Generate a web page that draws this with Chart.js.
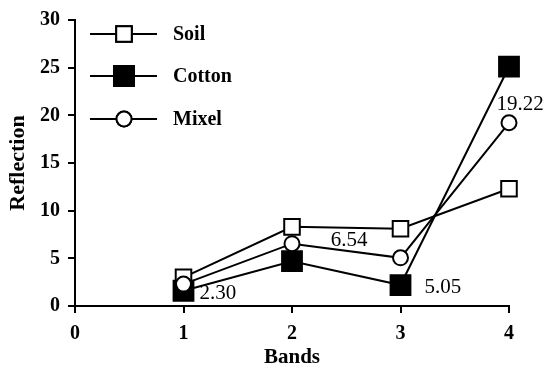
<!DOCTYPE html>
<html>
<head>
<meta charset="utf-8">
<script src="https://cdn.jsdelivr.net/npm/chart.js@4.4.1/dist/chart.umd.min.js"></script>
<style>
  html, body { margin: 0; padding: 0; background: #fff; }
  #wrap { width: 546px; height: 372px; }
</style>
</head>
<body>
<div id="wrap"><canvas id="chart" width="546" height="372"></canvas></div>
<script>
var bands = [1, 2, 3, 4];
var soil = [3.0, 8.3, 8.1, 12.3];
var cotton = [1.6, 4.7, 2.2, 25.1];
var mixel = [2.30, 6.54, 5.05, 19.22];
var mixelLabels = ['2.30', '6.54', '5.05', '19.22'];
var xTicks = [0, 1, 2, 3, 4];
var yTicks = [0, 5, 10, 15, 20, 25, 30];

var serif = "'Liberation Serif', 'Times New Roman', serif";

function toPoints(vals) {
  return bands.map(function (b, i) { return { x: b, y: vals[i] }; });
}

var series = [
  { label: 'Soil', data: soil, style: 'rect', radius: 11, fill: '#fff', order: 3 },
  { label: 'Cotton', data: cotton, style: 'rect', radius: 14, fill: '#000', order: 2 },
  { label: 'Mixel', data: mixel, style: 'circle', radius: 7.5, fill: '#fff', order: 1 }
];

// legend with line through the marker, top left in the plot
var legendPlugin = {
  id: 'lineLegend',
  afterDraw: function (c) {
    var ctx = c.ctx;
    var rows = [34, 76, 119];
    ctx.save();
    ctx.font = 'bold 20px ' + serif;
    ctx.textBaseline = 'middle';
    ctx.textAlign = 'left';
    series.forEach(function (s, i) {
      var y = rows[i];
      ctx.strokeStyle = '#000';
      ctx.lineWidth = 2;
      ctx.beginPath();
      ctx.moveTo(90, y);
      ctx.lineTo(157, y);
      ctx.stroke();
      ctx.fillStyle = s.fill;
      Chart.helpers.drawPoint(ctx, { pointStyle: s.style, radius: s.radius, borderWidth: 2, rotation: 0 }, 124, y);
      ctx.fill();
      ctx.stroke();
      ctx.fillStyle = '#000';
      ctx.fillText(s.label, 173, y + 1);
    });
    ctx.restore();
  }
};

// value labels next to the Mixel points
var valuePlugin = {
  id: 'valueLabels',
  afterDraw: function (c) {
    var ctx = c.ctx;
    var meta = c.getDatasetMeta(2);
    var offs = [[16, 9, 'left'], [57, -3, 'center'], [24, 30, 'left'], [11, -18, 'center']];
    ctx.save();
    ctx.font = '21px ' + serif;
    ctx.fillStyle = '#000';
    ctx.textBaseline = 'middle';
    meta.data.forEach(function (p, i) {
      ctx.textAlign = offs[i][2];
      ctx.fillText(mixelLabels[i], p.x + offs[i][0], p.y + offs[i][1]);
    });
    ctx.restore();
  }
};

new Chart(document.getElementById('chart'), {
  type: 'scatter',
  data: {
    datasets: series.map(function (s) {
      return {
        label: s.label,
        data: toPoints(s.data),
        showLine: true,
        clip: false,
        borderColor: '#000',
        borderWidth: 2,
        pointStyle: s.style,
        pointRadius: s.radius,
        pointHoverRadius: s.radius,
        pointBackgroundColor: s.fill,
        pointBorderColor: '#000',
        pointBorderWidth: 2,
        order: s.order
      };
    })
  },
  options: {
    responsive: false,
    animation: false,
    events: [],
    layout: { padding: { left: 0, right: 37, top: 16, bottom: 0 } },
    plugins: { legend: { display: false }, tooltip: { enabled: false } },
    scales: {
      x: {
        type: 'linear',
        min: 0,
        max: 4,
        afterBuildTicks: function (s) { s.ticks = xTicks.map(function (v) { return { value: v }; }); },
        afterFit: function (s) { s.height = 66; },
        grid: { drawOnChartArea: false, drawTicks: true, tickLength: 7, color: '#000', lineWidth: 2 },
        border: { color: '#000', width: 2 },
        ticks: { color: '#000', padding: 9, maxRotation: 0, font: { family: serif, size: 20, weight: 'bold' } },
        title: { display: true, text: 'Bands', color: '#000', padding: { top: 0, bottom: 2 }, font: { family: serif, size: 21, weight: 'bold' } }
      },
      y: {
        min: 0,
        max: 30,
        afterBuildTicks: function (s) { s.ticks = yTicks.map(function (v) { return { value: v }; }); },
        afterFit: function (s) { s.width = 75; },
        grid: { drawOnChartArea: false, drawTicks: true, tickLength: 7, color: '#000', lineWidth: 2 },
        border: { color: '#000', width: 2 },
        ticks: { color: '#000', padding: 8, font: { family: serif, size: 20, weight: 'bold' } },
        title: { display: true, text: 'Reflection', color: '#000', padding: { top: 5, bottom: 0 }, font: { family: serif, size: 22, weight: 'bold' } }
      }
    }
  },
  plugins: [legendPlugin, valuePlugin]
});
</script>
</body>
</html>
